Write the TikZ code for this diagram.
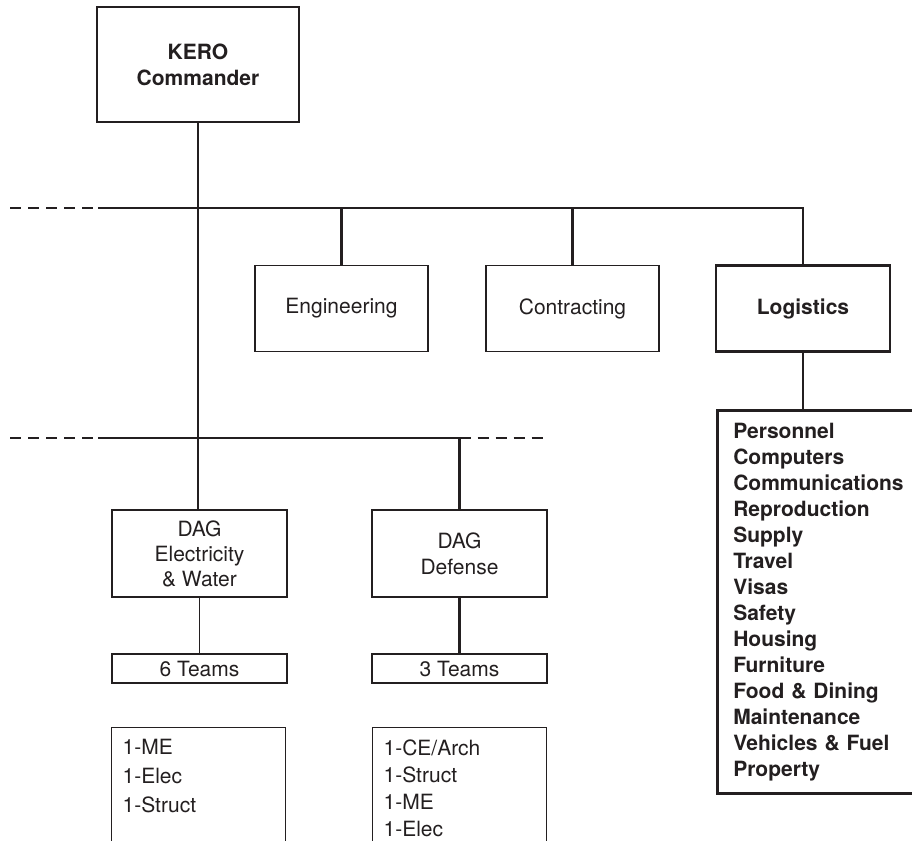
\documentclass[tikz,border=0pt]{standalone}
\usepackage{fontspec}
\setmainfont{TeX Gyre Heros}
\definecolor{ink}{RGB}{35,31,32}
\tikzset{
	box/.style={draw=ink, text=ink, line width=1.3pt, minimum width=173, minimum height=86, align=center, inner sep=0pt, font=\fontsize{21}{26}\selectfont},
	mainbox/.style={box, line width=2.6pt, font=\fontsize{21}{26}\selectfont\bfseries},
	teambox/.style={box, minimum width=175, minimum height=29},
	crewbox/.style={box, anchor=north west, align=left, minimum width=0, minimum height=0, text width=152, inner xsep=11, inner ysep=12, text depth=130},
	listbox/.style={mainbox, anchor=north west, align=left, minimum width=0, minimum height=383, text width=170, inner xsep=16},
	thinline/.style={draw=ink, line width=1.2pt},
	thickline/.style={draw=ink, line width=2.6pt},
	dashline/.style={draw=ink, line width=1.4pt, dash pattern=on 11pt off 7pt},
}
\begin{document}
\begin{tikzpicture}[x=1pt,y=-1pt]
		\useasboundingbox (0,0) rectangle (912,840);
		\clip (0,0) rectangle (912,840);

		% command and staff sections
		\node[mainbox, minimum width=202, minimum height=115] (kero) at (198,64.5) {KERO\\Commander};
		\node[box] (eng) at (341.5,308.5) {Engineering};
		\node[box] (contr) at (572.5,308.5) {Contracting};
		\node[mainbox, minimum width=174] (logi) at (803,308.5) {Logistics};
		\node[listbox] (support) at (716,409) {Personnel\\Computers\\Communications\\Reproduction\\Supply\\Travel\\Visas\\Safety\\Housing\\Furniture\\Food \& Dining\\Maintenance\\Vehicles \& Fuel\\Property};

		% district area groups
		\node[box, minimum width=175, minimum height=87, font=\fontsize{21}{25}\selectfont] (dagew) at (199.5,553.5) {DAG\\Electricity\\\& Water};
		\node[box, minimum width=175, minimum height=87] (dagdef) at (459.5,553.5) {DAG\\Defense};
		\node[teambox] (teamsew) at (199.5,668.5) {6 Teams};
		\node[teambox] (teamsdef) at (459.5,668.5) {3 Teams};
		\node[crewbox, font=\fontsize{21}{29}\selectfont] (crewew) at (111,727) {1-ME\\1-Elec\\1-Struct};
		\node[crewbox, font=\fontsize{21}{27}\selectfont] (crewdef) at (372,727) {1-CE/Arch\\1-Struct\\1-ME\\1-Elec};

		\coordinate (busA) at (198,208);
		\coordinate (busB) at (198,438);
		\coordinate (busAleft) at (98,208);
		\coordinate (busBleft) at (98,438);
		\coordinate (edgeA) at (10,208);
		\coordinate (edgeB) at (10,438);
		\coordinate (busBright) at (547,438);

		% upper bus
		\draw[thickline] (kero.south) -- (busA) -- (busA -| logi.north) -- (logi.north);
		\draw[thickline] (busA -| eng.north) -- (eng.north);
		\draw[thickline] (busA -| contr.north) -- (contr.north);
		\draw[thinline] (busAleft) -- (busA);
		\draw[dashline] (edgeA) -- (busAleft);
		\draw[thickline] (logi.south) -- (logi.south |- support.north);

		% lower bus
		\draw[thinline] (busA) -- (busB);
		\draw[thinline, line width=1.7pt] (busB) -- (busB |- dagew.north);
		\draw[thinline] (busBleft) -- (busB -| dagdef.north);
		\draw[dashline] (edgeB) -- (busBleft);
		\draw[dashline] (busB -| dagdef.north) -- (busBright);
		\draw[thickline] (busB -| dagdef.north) -- (dagdef.north);
		\draw[thinline] (dagew.south) -- (teamsew.north);
		\draw[thickline] (dagdef.south) -- (teamsdef.north);

	\end{tikzpicture}
\end{document}
